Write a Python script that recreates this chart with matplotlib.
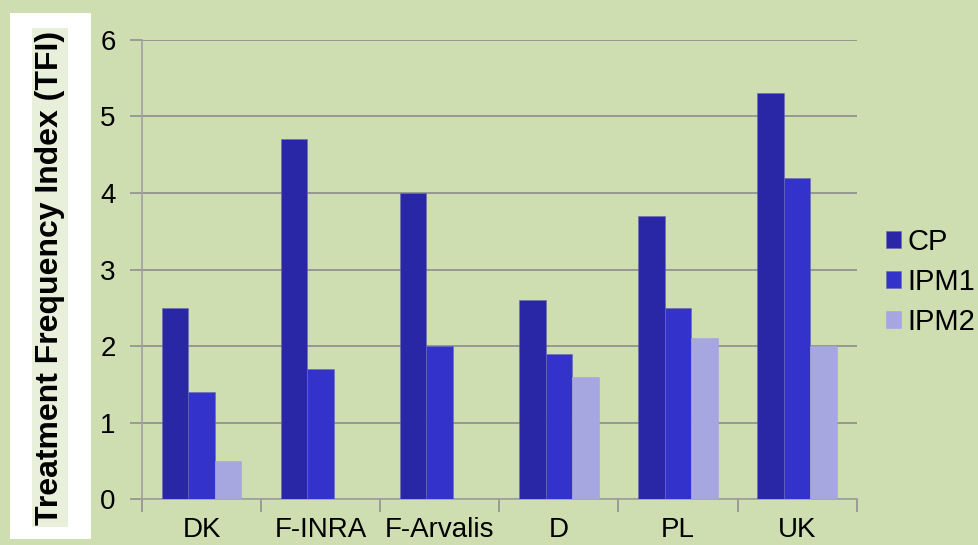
import matplotlib.pyplot as plt
from matplotlib.patches import Rectangle
import numpy as np

# Data
sites = ["DK", "F-INRA", "F-Arvalis", "D", "PL", "UK"]
cp = [2.5, 4.7, 4.0, 2.6, 3.7, 5.3]
ipm1 = [1.4, 1.7, 2.0, 1.9, 2.5, 4.2]
ipm2 = [0.5, 0, 0, 1.6, 2.1, 2.0]
series_names = ["CP", "IPM1", "IPM2"]

bg = "#cfdeb0"
colors = ["#2a27a6", "#3333cc", "#a6a6e0"]

plt.rcParams["font.family"] = ["Liberation Sans", "DejaVu Sans"]

fig = plt.figure(figsize=(9.79, 5.45), dpi=100, facecolor=bg)
ax = fig.add_axes([0.145, 0.084, 0.73, 0.843])
ax.set_facecolor(bg)

# White box behind the y label
fig.patches.append(Rectangle((10 / 979, 1 - 539 / 545), 81 / 979, 526 / 545,
                             transform=fig.transFigure, facecolor="white",
                             edgecolor="none", zorder=-5))

x = np.arange(len(sites))
w = 0.223
for i, (vals, c, name) in enumerate(zip([cp, ipm1, ipm2], colors, series_names)):
    ax.bar(x + (i - 1) * w, vals, w, color=c, label=name, zorder=3,
           edgecolor="#6a6ab8" if i < 2 else c, linewidth=0.4)

ax.set_xlim(-0.5, len(sites) - 0.5)
ax.set_ylim(0, 6)
ax.set_yticks(range(0, 7))
ax.set_xticks(np.arange(-0.5, len(sites), 1))
ax.set_xticklabels([])
ax.set_xticks(x, minor=True)
ax.set_xticklabels(sites, minor=True)
ax.tick_params(axis="x", which="minor", length=0, pad=13, labelsize=20)
ax.tick_params(axis="x", which="major", length=9, color="#909090", width=1.2)
ax.tick_params(axis="y", length=9, color="#909090", width=1.2, pad=10, labelsize=20)
ax.grid(axis="y", color="#8c8c8c", linewidth=1.2, zorder=0)

for s in ["top", "right"]:
    ax.spines[s].set_visible(False)
for s in ["left", "bottom"]:
    ax.spines[s].set_color("#a0a0a0")
    ax.spines[s].set_linewidth(1.2)

fig.text(50 / 979, 1 - 277.5 / 545, "Treatment Frequency Index (TFI)",
         rotation=90, ha="center", va="center", fontsize=23, fontweight="bold",
         bbox=dict(facecolor="#e8f0dc", edgecolor="none", pad=2))

ax.legend(loc="center left", bbox_to_anchor=(1.0045, 0.473), frameon=False,
          fontsize=21, handlelength=0.52, handleheight=0.52, handletextpad=0.22,
          labelspacing=0.4)

fig.savefig("out.png", dpi=100, facecolor=bg)
